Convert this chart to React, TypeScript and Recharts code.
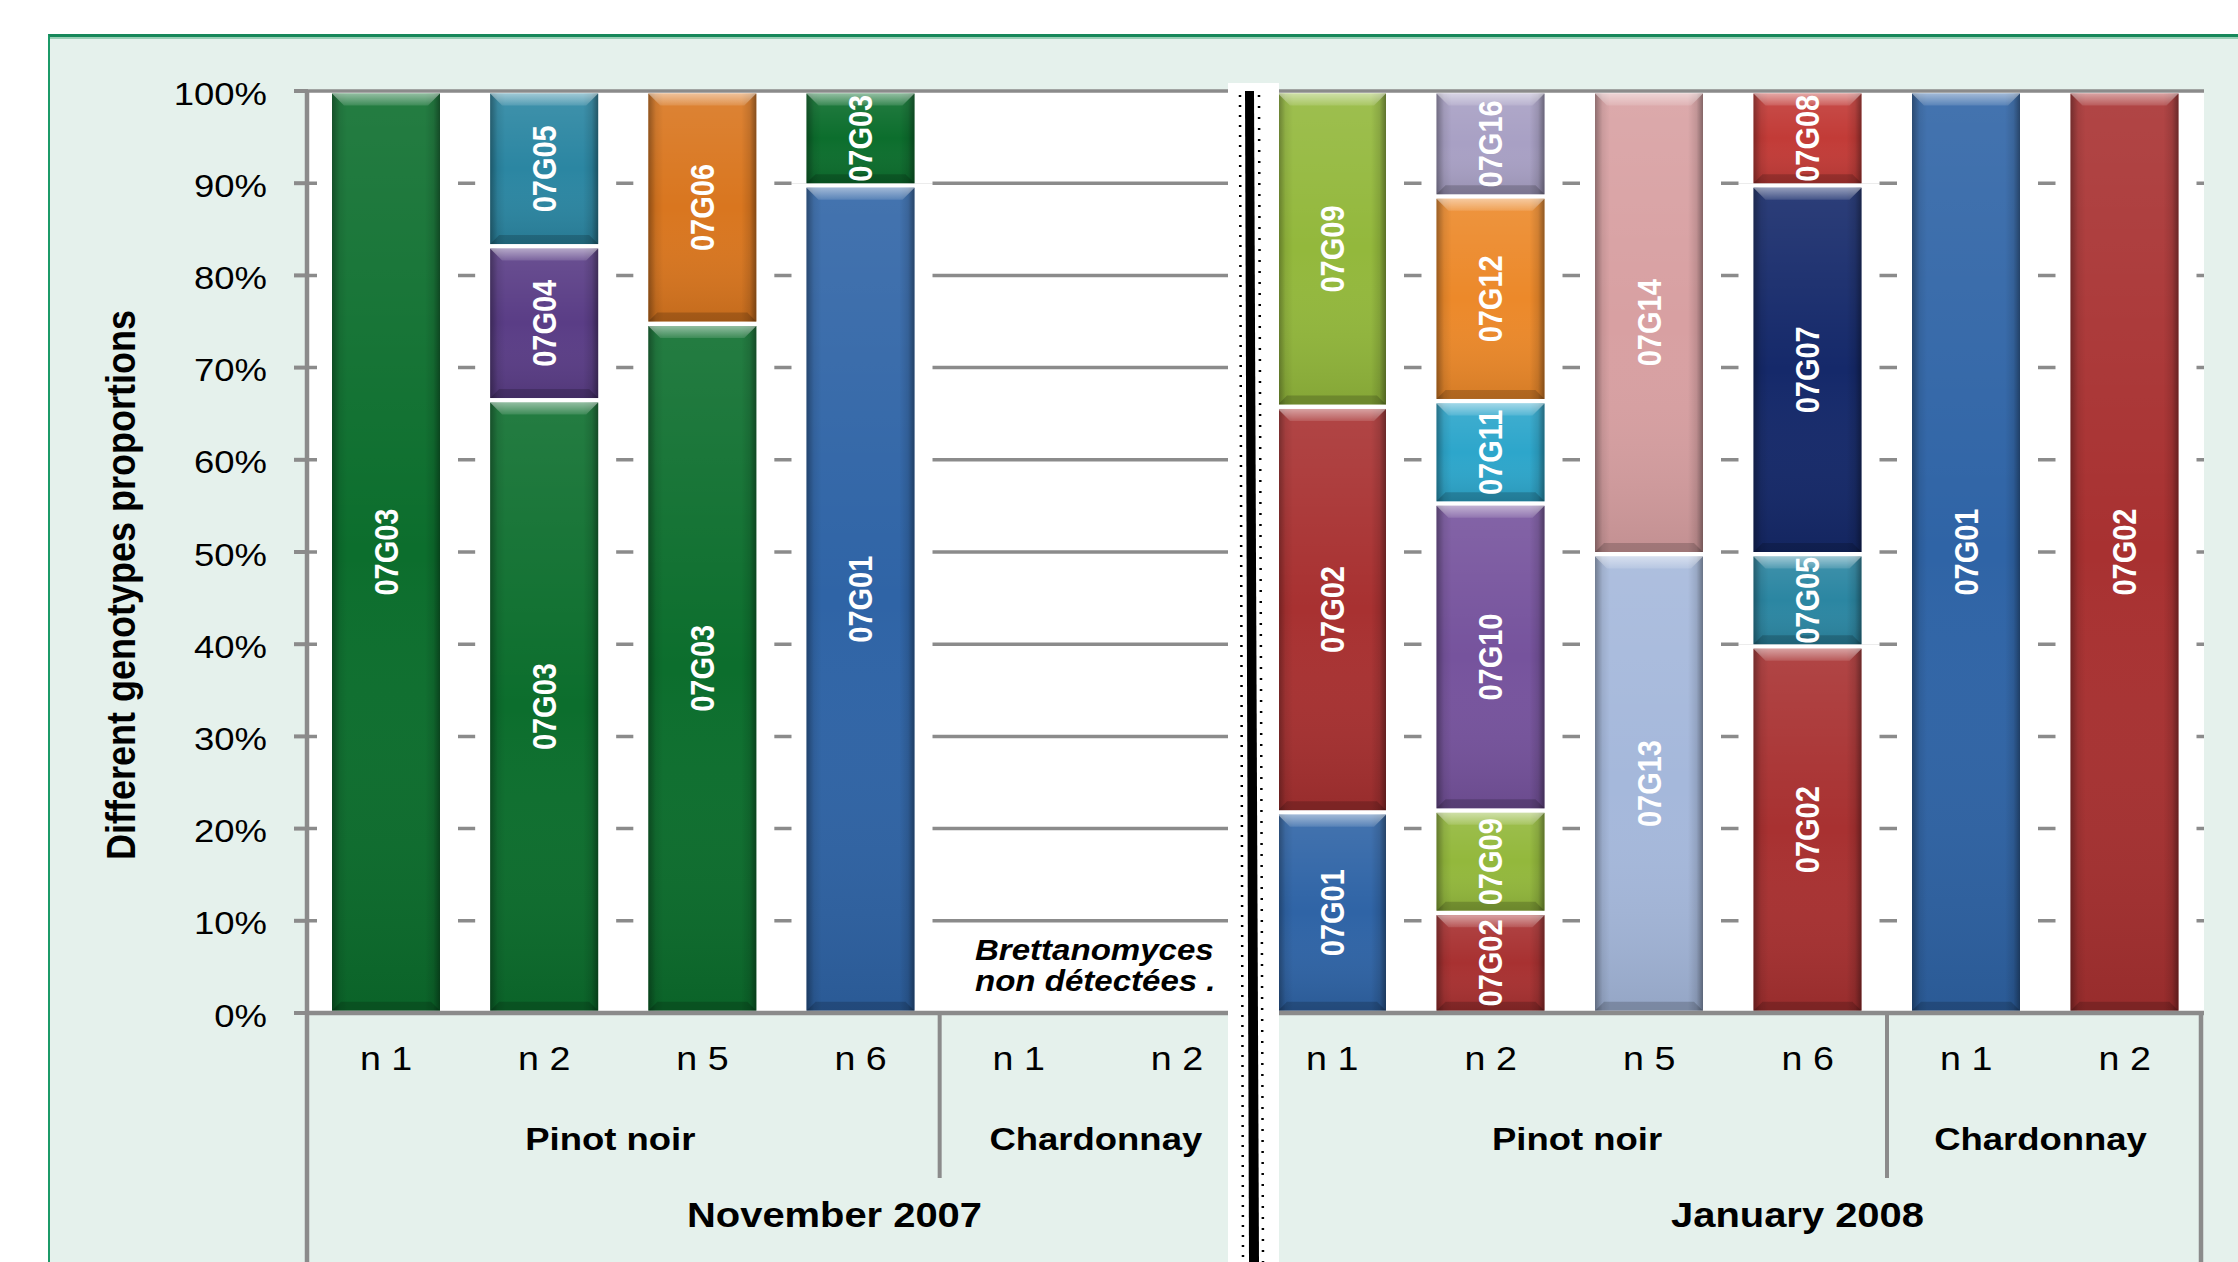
import React from "react";
import { BarChart, Bar, XAxis, YAxis, CartesianGrid } from "recharts";

// ---------- data ----------
const genotypes = [
  "07G01", "07G02", "07G03", "07G04", "07G05", "07G06", "07G07", "07G08",
  "07G09", "07G10", "07G11", "07G12", "07G13", "07G14", "07G16",
];

const novCategories = ["n 1", "n 2", "n 5", "n 6", "n 1", "n 2"];
const novGroups = ["Pinot noir", "Pinot noir", "Pinot noir", "Pinot noir", "Chardonnay", "Chardonnay"];
const novPeriod = "November 2007";

const janCategories = ["n 1", "n 2", "n 5", "n 6", "n 1", "n 2"];
const janGroups = ["Pinot noir", "Pinot noir", "Pinot noir", "Pinot noir", "Chardonnay", "Chardonnay"];
const janPeriod = "January 2008";

const yTicks = [0, 10, 20, 30, 40, 50, 60, 70, 80, 90, 100];

// November 2007 (% of isolates per genotype)
const nov07G01 = [0, 0, 0, 90, 0, 0];
const nov07G03 = [100, 66.7, 75, 10, 0, 0];
const nov07G04 = [0, 16.7, 0, 0, 0, 0];
const nov07G05 = [0, 16.6, 0, 0, 0, 0];
const nov07G06 = [0, 0, 25, 0, 0, 0];

// January 2008
const jan07G01 = [22, 0, 0, 0, 100, 0];
const jan07G02 = [44, 11.1, 0, 40, 0, 100];
const jan07G05 = [0, 0, 0, 10, 0, 0];
const jan07G07 = [0, 0, 0, 40, 0, 0];
const jan07G08 = [0, 0, 0, 10, 0, 0];
const jan07G09 = [34, 11.1, 0, 0, 0, 0];
const jan07G10 = [0, 33.3, 0, 0, 0, 0];
const jan07G11 = [0, 11.1, 0, 0, 0, 0];
const jan07G12 = [0, 22.2, 0, 0, 0, 0];
const jan07G13 = [0, 0, 50, 0, 0, 0];
const jan07G14 = [0, 0, 50, 0, 0, 0];
const jan07G16 = [0, 11.2, 0, 0, 0, 0];

const novNote1 = "Brettanomyces";
const novNote2 = "non détectées .";
const yTitle = "Different genotypes proportions";

const genotypeColors: Record<string, string> = {
  "07G01": "#2F64A6",
  "07G02": "#A83131",
  "07G03": "#0C6E2D",
  "07G04": "#5A3D86",
  "07G05": "#2B86A2",
  "07G06": "#D9761F",
  "07G07": "#15296A",
  "07G08": "#C23B37",
  "07G09": "#93B83C",
  "07G10": "#76539D",
  "07G11": "#2DA6CB",
  "07G12": "#EC892A",
  "07G13": "#A5B8DB",
  "07G14": "#D8A0A2",
  "07G16": "#A8A0C4",
};

const novSeries: Record<string, number[]> = {
  "07G01": nov07G01, "07G03": nov07G03, "07G04": nov07G04, "07G05": nov07G05, "07G06": nov07G06,
};
const janSeries: Record<string, number[]> = {
  "07G01": jan07G01, "07G02": jan07G02, "07G05": jan07G05, "07G07": jan07G07, "07G08": jan07G08,
  "07G09": jan07G09, "07G10": jan07G10, "07G11": jan07G11, "07G12": jan07G12, "07G13": jan07G13,
  "07G14": jan07G14, "07G16": jan07G16,
};

function buildRows(cats: string[], groups: string[], series: Record<string, number[]>) {
  return cats.map((c, i) => {
    const row: any = { key: groups[i] + "|" + c };
    genotypes.forEach((g) => {
      if (series[g]) row[g] = series[g][i];
    });
    return row;
  });
}
const novRows = buildRows(novCategories, novGroups, novSeries);
const janRows = buildRows(janCategories, janGroups, janSeries);

// ---------- layout ----------
const W = 2238;
const H = 1262;
const PLOT_TOP = 91;
const PLOT_BOTTOM = 1013;
const LEFT_PLOT_LEFT = 307;
const LEFT_PLOT_RIGHT = 1256;
const RIGHT_PLOT_LEFT = 1253;
const RIGHT_PLOT_RIGHT = 2204;
const GRID = "#8B8B8B";
const FONT = "'Liberation Sans', Arial, Helvetica, sans-serif";
const SX = 1.14;

function makeShape(g: string) {
  const color = genotypeColors[g];
  return (props: any) => {
    const { x, y, width, height } = props;
    if (!(height > 0.5) || !(width > 0)) return <g />;
    const atTop = y <= PLOT_TOP + 1;
    const haloTop = atTop ? PLOT_TOP + 2.5 : y;
    const bottom = Math.min(y + height, PLOT_BOTTOM - 2.3);
    const rTop = y + (atTop ? 2.5 : 4.5);
    const rH = Math.max(0, bottom - rTop);
    const cx = x + width / 2;
    const cy = rTop + rH / 2;
    const bev = Math.min(12, rH / 4);
    const bb = Math.min(9, rH / 5);
    return (
      <g>
        <rect x={x - 15} y={haloTop} width={width + 33} height={bottom - haloTop} fill="#ffffff" />
        <rect x={x} y={rTop} width={width} height={rH} fill={color} />
        <rect x={x} y={rTop} width={width} height={rH} fill="url(#barShade)" />
        <rect x={x} y={rTop} width={width} height={rH} fill="url(#barEdge)" />
        <path
          d={`M${x},${rTop} L${x + width},${rTop} L${x + width - bev},${rTop + bev} L${x + bev},${rTop + bev} Z`}
          fill="url(#barHi)"
        />
        <path
          d={`M${x + bb},${bottom - bb} L${x + width - bb},${bottom - bb} L${x + width},${bottom} L${x},${bottom} Z`}
          fill="rgba(0,0,0,0.18)"
        />
        <text
          transform={`translate(${cx},${cy}) scale(${SX},1) rotate(-90)`}
          textAnchor="middle"
          dy="0.36em"
          fill="#ffffff"
          fontWeight="bold"
          fontSize={29}
          fontFamily={FONT}
        >
          {g}
        </text>
      </g>
    );
  };
}

function YTick(props: any) {
  const { x, y, payload } = props;
  return (
    <g>
      <line x1={x - 13} x2={x + 1} y1={y} y2={y} stroke={GRID} strokeWidth={4} />
      <text
        transform={`translate(${x - 40},${y + 13.5}) scale(${SX},1)`}
        textAnchor="end"
        fontSize={32}
        fontFamily={FONT}
        fill="#000"
      >
        {payload.value + "%"}
      </text>
    </g>
  );
}

type TickCfg = {
  band: number;
  groupShift: Record<string, number>;
  periodShift: number;
  leftLine: boolean;
  rightLine: boolean;
};

function makeXTick(cats: string[], groups: string[], period: string, cfg: TickCfg) {
  return (props: any) => {
    const { x, y, payload } = props;
    const i: number = props.index ?? payload.index;
    const band = cfg.band;
    const els: React.ReactNode[] = [];
    els.push(
      <text
        key="c"
        transform={`translate(${x},${y + 57}) scale(${SX},1)`}
        textAnchor="middle"
        fontSize={33}
        fontFamily={FONT}
        fill="#000"
      >
        {cats[i]}
      </text>
    );
    if (i === 0 || groups[i] !== groups[i - 1]) {
      let e = i;
      while (e + 1 < groups.length && groups[e + 1] === groups[i]) e++;
      const gx = x + ((e - i) / 2) * band + (cfg.groupShift[groups[i]] ?? 0);
      els.push(
        <text
          key="g"
          transform={`translate(${gx},${y + 137}) scale(${SX},1)`}
          textAnchor="middle"
          fontSize={32}
          fontWeight="bold"
          fontFamily={FONT}
          fill="#000"
        >
          {groups[i]}
        </text>
      );
      if (i > 0) {
        els.push(
          <line key="d" x1={x - band / 2} x2={x - band / 2} y1={y} y2={y + 165} stroke={GRID} strokeWidth={4} />
        );
      }
    }
    if (i === 0) {
      const px = x + ((cats.length - 1) / 2) * band + cfg.periodShift;
      els.push(
        <text
          key="p"
          transform={`translate(${px},${y + 214}) scale(${SX},1)`}
          textAnchor="middle"
          fontSize={35}
          fontWeight="bold"
          fontFamily={FONT}
          fill="#000"
        >
          {period}
        </text>
      );
      if (cfg.leftLine) {
        els.push(<line key="l" x1={x - band / 2} x2={x - band / 2} y1={y} y2={y + 260} stroke={GRID} strokeWidth={4.5} />);
      }
    }
    if (i === cats.length - 1 && cfg.rightLine) {
      els.push(<line key="r" x1={x + band / 2 - 3} x2={x + band / 2 - 3} y1={y - 2} y2={y + 260} stroke={GRID} strokeWidth={4.5} />);
    }
    return <g>{els}</g>;
  };
}

const novTick = makeXTick(novCategories, novGroups, novPeriod, {
  band: (LEFT_PLOT_RIGHT - LEFT_PLOT_LEFT) / 6,
  groupShift: { "Pinot noir": -13, Chardonnay: -2 },
  periodShift: 53,
  leftLine: true,
  rightLine: false,
});
const janTick = makeXTick(janCategories, janGroups, janPeriod, {
  band: (RIGHT_PLOT_RIGHT - RIGHT_PLOT_LEFT) / 6,
  groupShift: { "Pinot noir": 7, Chardonnay: -5 },
  periodShift: 69,
  leftLine: false,
  rightLine: true,
});

function PeriodChart(props: {
  rows: any[];
  series: Record<string, number[]>;
  left: number;
  width: number;
  marginRight: number;
  yWidth: number;
  showY: boolean;
  tick: any;
}) {
  const keys = genotypes.filter((g) => props.series[g]);
  return (
    <div style={{ position: "absolute", left: props.left, top: 0 }}>
      <BarChart
        width={props.width}
        height={H}
        data={props.rows}
        margin={{ top: PLOT_TOP, right: props.marginRight, bottom: 0, left: 0 }}
        barCategoryGap={0}
      >
        <CartesianGrid horizontal vertical={false} stroke={GRID} strokeWidth={3.5} fill="#ffffff" />
        <XAxis
          dataKey="key"
          interval={0}
          height={H - PLOT_BOTTOM}
          tickLine={false}
          tickSize={0}
          tickMargin={0}
          axisLine={{ stroke: GRID, strokeWidth: 4.5 }}
          tick={props.tick}
        />
        <YAxis
          type="number"
          domain={[0, 100]}
          ticks={yTicks}
          allowDataOverflow
          hide={!props.showY}
          width={props.showY ? props.yWidth : 0}
          tickLine={false}
          tickSize={0}
          tickMargin={0}
          axisLine={{ stroke: GRID, strokeWidth: 4.5 }}
          tick={<YTick />}
        />
        {keys.map((g) => (
          <Bar
            key={g}
            dataKey={g}
            stackId="s"
            fill={genotypeColors[g]}
            barSize={108}
            shape={makeShape(g)}
            isAnimationActive={false}
          />
        ))}
      </BarChart>
    </div>
  );
}

export default function App() {
  return (
    <div
      style={{
        position: "absolute",
        left: 0,
        top: 0,
        width: W,
        height: H,
        overflow: "hidden",
        background: "#ffffff",
        fontFamily: FONT,
      }}
    >
      <svg width={0} height={0} style={{ position: "absolute" }}>
        <defs>
          <linearGradient id="barEdge" x1="0" y1="0" x2="1" y2="0">
            <stop offset="0" stopColor="#000" stopOpacity={0.35} />
            <stop offset="0.07" stopColor="#000" stopOpacity={0.08} />
            <stop offset="0.14" stopColor="#000" stopOpacity={0} />
            <stop offset="0.86" stopColor="#000" stopOpacity={0} />
            <stop offset="0.94" stopColor="#000" stopOpacity={0.12} />
            <stop offset="1" stopColor="#000" stopOpacity={0.4} />
          </linearGradient>
          <linearGradient id="barShade" x1="0" y1="0" x2="0" y2="1">
            <stop offset="0" stopColor="#fff" stopOpacity={0.1} />
            <stop offset="0.5" stopColor="#fff" stopOpacity={0} />
            <stop offset="1" stopColor="#000" stopOpacity={0.1} />
          </linearGradient>
          <linearGradient id="barHi" x1="0" y1="0" x2="0" y2="1">
            <stop offset="0" stopColor="#fff" stopOpacity={0.5} />
            <stop offset="1" stopColor="#fff" stopOpacity={0.12} />
          </linearGradient>
        </defs>
      </svg>

      {/* panel background */}
      <div
        style={{
          position: "absolute",
          left: 48,
          top: 34,
          width: W,
          height: H,
          background: "#E5F1EC",
          borderTop: "3px solid #17885A",
          borderLeft: "2px solid #1C9A68",
          boxShadow: "inset 0 2px 0 #9ACFB6",
        }}
      />

      <PeriodChart
        rows={novRows}
        series={novSeries}
        left={0}
        width={LEFT_PLOT_RIGHT + 4}
        marginRight={4}
        yWidth={LEFT_PLOT_LEFT}
        showY
        tick={novTick}
      />
      <PeriodChart
        rows={janRows}
        series={janSeries}
        left={RIGHT_PLOT_LEFT}
        width={W - RIGHT_PLOT_LEFT}
        marginRight={W - RIGHT_PLOT_RIGHT}
        yWidth={0}
        showY={false}
        tick={janTick}
      />

      <svg width={W} height={H} style={{ position: "absolute", left: 0, top: 0, pointerEvents: "none" }}>
        {/* y-axis title */}
        <text
          transform={`translate(135,585) scale(${SX},1) rotate(-90)`}
          textAnchor="middle"
          fontSize={36}
          fontWeight="bold"
          fontFamily={FONT}
          fill="#000"
        >
          {yTitle}
        </text>

        {/* annotation */}
        <text
          transform={`translate(975,960) scale(${SX},1)`}
          fontSize={29}
          fontWeight="bold"
          fontStyle="italic"
          fontFamily={FONT}
          fill="#000"
        >
          {novNote1}
        </text>
        <text
          transform={`translate(975,991) scale(${SX},1)`}
          fontSize={29}
          fontWeight="bold"
          fontStyle="italic"
          fontFamily={FONT}
          fill="#000"
        >
          {novNote2}
        </text>

        {/* separator band between the two periods */}
        <rect x={1228} y={83} width={51} height={H - 83} fill="#ffffff" />
        <polygon points="1245,91 1254,91 1259,1262 1249,1262" fill="#000" />
        <line x1={1240} y1={95} x2={1243} y2={1262} stroke="#000" strokeWidth={2.5} strokeDasharray="2 8" />
        <line x1={1259} y1={95} x2={1263} y2={1262} stroke="#000" strokeWidth={2.5} strokeDasharray="2 9" />
      </svg>
    </div>
  );
}
